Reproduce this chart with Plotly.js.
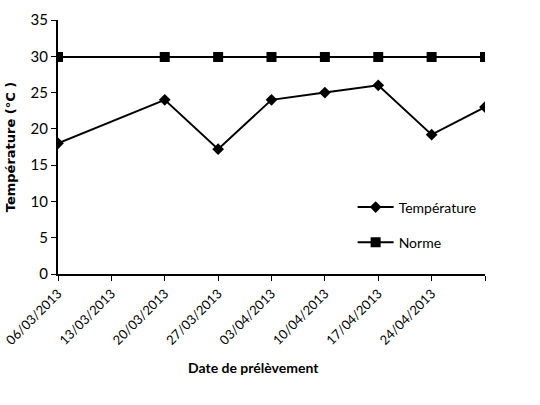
<!DOCTYPE html>
<html>
<head>
<meta charset="utf-8">
<script src="https://cdn.plot.ly/plotly-3.0.1.min.js"></script>
<style>html,body{margin:0;padding:0;background:#fff}#chart{width:540px;height:405px}</style>
</head>
<body>
<div id="chart"></div>
<script>
var dates = ["2013-03-06","2013-03-20","2013-03-27","2013-04-03","2013-04-10","2013-04-17","2013-04-24","2013-05-01"];
var temperature = [18, 24, 17.2, 24, 25, 26, 19.2, 23];
var norme = [29.9, 29.9, 29.9, 29.9, 29.9, 29.9, 29.9, 29.9];
var tickDates = ["2013-03-06","2013-03-13","2013-03-20","2013-03-27","2013-04-03","2013-04-10","2013-04-17","2013-04-24","2013-05-01"];
var tickLabels = ["06/03/2013","13/03/2013","20/03/2013","27/03/2013","03/04/2013","10/04/2013","17/04/2013","24/04/2013",""];
var yTicks = [0,5,10,15,20,25,30,35];

var font = "Lato, sans-serif";

var traces = [
  {x: dates, y: temperature, name: "Température", type: "scatter", mode: "lines+markers",
   line: {color: "#000", width: 2}, marker: {symbol: "diamond", size: 9, color: "#000"}, legendgroup: "a"},
  {x: dates, y: norme, name: "Norme", type: "scatter", mode: "lines+markers",
   line: {color: "#000", width: 2}, marker: {symbol: "square", size: 10, color: "#000"}, legendgroup: "b"}
];

var layout = {
  width: 540, height: 405,
  margin: {l: 58, r: 55, t: 20, b: 131},
  paper_bgcolor: "#fff", plot_bgcolor: "#fff",
  font: {family: font, size: 13, color: "#000"},
  showlegend: true,
  legend: {x: 0.69, y: 0.325, xanchor: "left", yanchor: "top", bgcolor: "rgba(0,0,0,0)",
           font: {family: font, size: 14}, tracegroupgap: 14, itemwidth: 36},
  xaxis: {type: "date", range: ["2013-03-06","2013-05-01"], tickvals: tickDates, ticktext: tickLabels,
          tickangle: -45, showgrid: false, zeroline: false, showline: true, linecolor: "#000", linewidth: 2,
          ticks: "outside", ticklen: 5, tickcolor: "#000", tickwidth: 1, tickfont: {family: font, size: 13}},
  yaxis: {range: [0, 35], tickvals: yTicks, showgrid: false, zeroline: false, showline: true,
          linecolor: "#000", linewidth: 2, ticks: "outside", ticklen: 5, tickcolor: "#000", tickwidth: 1,
          tickfont: {family: font, size: 15},
          title: {text: "<b>Température (°C )</b>", font: {family: "DejaVu Sans, sans-serif", size: 13}, standoff: 12}},
  annotations: [{text: "<b>Date de prélèvement</b>", xref: "paper", yref: "paper", x: 0.457, y: -0.37,
                 xanchor: "center", yanchor: "middle", showarrow: false, font: {family: font, size: 14}}]
};

Plotly.newPlot("chart", traces, layout, {displayModeBar: false, staticPlot: true});
</script>
</body>
</html>
